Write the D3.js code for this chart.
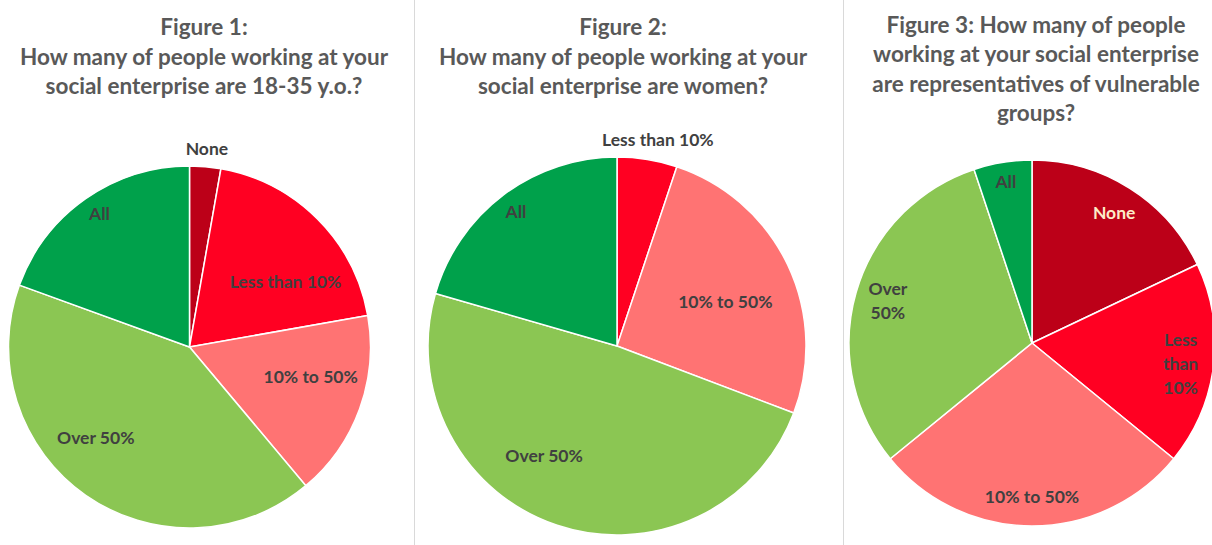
<!DOCTYPE html>
<html>
<head>
<meta charset="utf-8">
<script src="https://cdn.jsdelivr.net/npm/d3@7"></script>
<style>
  html, body { margin: 0; padding: 0; background: #ffffff; }
  svg { display: block; }
  text { font-family: Lato, "Open Sans", sans-serif; font-weight: 700; }
</style>
</head>
<body>
<svg id="chart" width="1212" height="545"></svg>
<script>
// Survey answers (number of responding enterprises per answer)
const fig1Categories = ["None", "Less than 10%", "10% to 50%", "Over 50%", "All"];
const fig1Values     = [1, 7, 6, 15, 7];

const fig2Categories = ["Less than 10%", "10% to 50%", "Over 50%", "All"];
const fig2Values     = [2, 10, 19, 8];

const fig3Categories = ["None", "Less than 10%", "10% to 50%", "Over 50%", "All"];
const fig3Values     = [7, 7, 11, 12, 2];

const fig1Title = ["Figure 1:", "How many of people working at your", "social enterprise are 18-35 y.o.?"];
const fig2Title = ["Figure 2:", "How many of people working at your", "social enterprise are women?"];
const fig3Title = ["Figure 3: How many of people", "working at your social enterprise",
                   "are representatives of vulnerable", "groups?"];

// Slice colours per answer
const color = d3.scaleOrdinal()
  .domain(["None", "Less than 10%", "10% to 50%", "Over 50%", "All"])
  .range(["#BC0018", "#FF0022", "#FF7373", "#8BC653", "#00A14B"]);

// Panel layout: pie centre/radius, title placement, and label placement
// (label ring as a fraction of the radius, plus an angular nudge in degrees)
const panels = [
  {
    categories: fig1Categories, values: fig1Values, title: fig1Title,
    cx: 189.5, cy: 347, r: 181, titleX: 204, titleY: 35, titleStep: 29.5,
    labels: {
      "None":          { f: 1.10, nudge: 0 },
      "Less than 10%": { f: 0.64, nudge: 11 },
      "10% to 50%":    { f: 0.69, nudge: -6 },
      "Over 50%":      { f: 0.72, nudge: 11 },
      "All":           { f: 0.89, nudge: 1 }
    }
  },
  {
    categories: fig2Categories, values: fig2Values, title: fig2Title,
    cx: 617, cy: 346, r: 189, titleX: 623, titleY: 35, titleStep: 29.5,
    labels: {
      "Less than 10%": { f: 1.11, nudge: 2 },
      "10% to 50%":    { f: 0.62, nudge: 3 },
      "Over 50%":      { f: 0.70, nudge: 15 },
      "All":           { f: 0.89, nudge: 0 }
    }
  },
  {
    categories: fig3Categories, values: fig3Values, title: fig3Title,
    cx: 1032, cy: 343, r: 183, titleX: 1036, titleY: 33, titleStep: 29.3,
    labels: {
      "None":          { f: 0.84, nudge: 0, fill: "#FDEBC8" },
      "Less than 10%": { f: 0.82, nudge: 1, lines: ["Less", "than", "10%"] },
      "10% to 50%":    { f: 0.84, nudge: 0 },
      "Over 50%":      { f: 0.82, nudge: 0, lines: ["Over", "50%"] },
      "All":           { f: 0.89, nudge: 0 }
    }
  }
];

const svg = d3.select("#chart");

// thin panel separators
svg.selectAll("line.sep")
  .data([414, 843])
  .join("line")
  .attr("class", "sep")
  .attr("x1", d => d + 0.5).attr("x2", d => d + 0.5)
  .attr("y1", 0).attr("y2", 545)
  .attr("stroke", "#D9D9D9")
  .attr("stroke-width", 1);

const pie = d3.pie().sort(null).value(d => d.value);

panels.forEach(p => {
  const data = p.categories.map((c, i) => ({ category: c, value: p.values[i] }));
  const arcs = pie(data);
  const g = svg.append("g").attr("transform", `translate(${p.cx},${p.cy})`);

  const arc = d3.arc().innerRadius(0).outerRadius(p.r);
  g.selectAll("path")
    .data(arcs)
    .join("path")
    .attr("d", arc)
    .attr("fill", d => color(d.data.category))
    .attr("stroke", "#ffffff")
    .attr("stroke-width", 1.5)
    .attr("stroke-linejoin", "round");

  // data labels
  const labelFont = 17.5, lineH = 24;
  arcs.forEach(d => {
    const cfg = p.labels[d.data.category];
    const mid = (d.startAngle + d.endAngle) / 2 + cfg.nudge * Math.PI / 180;
    const lr = p.r * cfg.f;
    const pos = d3.arc().innerRadius(lr).outerRadius(lr)
      .centroid({ startAngle: mid, endAngle: mid });
    const lines = cfg.lines || [d.data.category];
    const t = g.append("text")
      .attr("text-anchor", "middle")
      .attr("font-size", labelFont)
      .attr("fill", cfg.fill || "#404040");
    lines.forEach((ln, i) => {
      t.append("tspan")
        .attr("x", pos[0])
        .attr("y", pos[1] + (i - (lines.length - 1) / 2) * lineH)
        .attr("dy", "0.35em")
        .text(ln);
    });
  });

  // title
  const tt = svg.append("text")
    .attr("text-anchor", "middle")
    .attr("font-size", 22.5)
    .attr("fill", "#595959");
  p.title.forEach((ln, i) => {
    tt.append("tspan")
      .attr("x", p.titleX)
      .attr("y", p.titleY + i * p.titleStep)
      .text(ln);
  });
});
</script>
</body>
</html>
